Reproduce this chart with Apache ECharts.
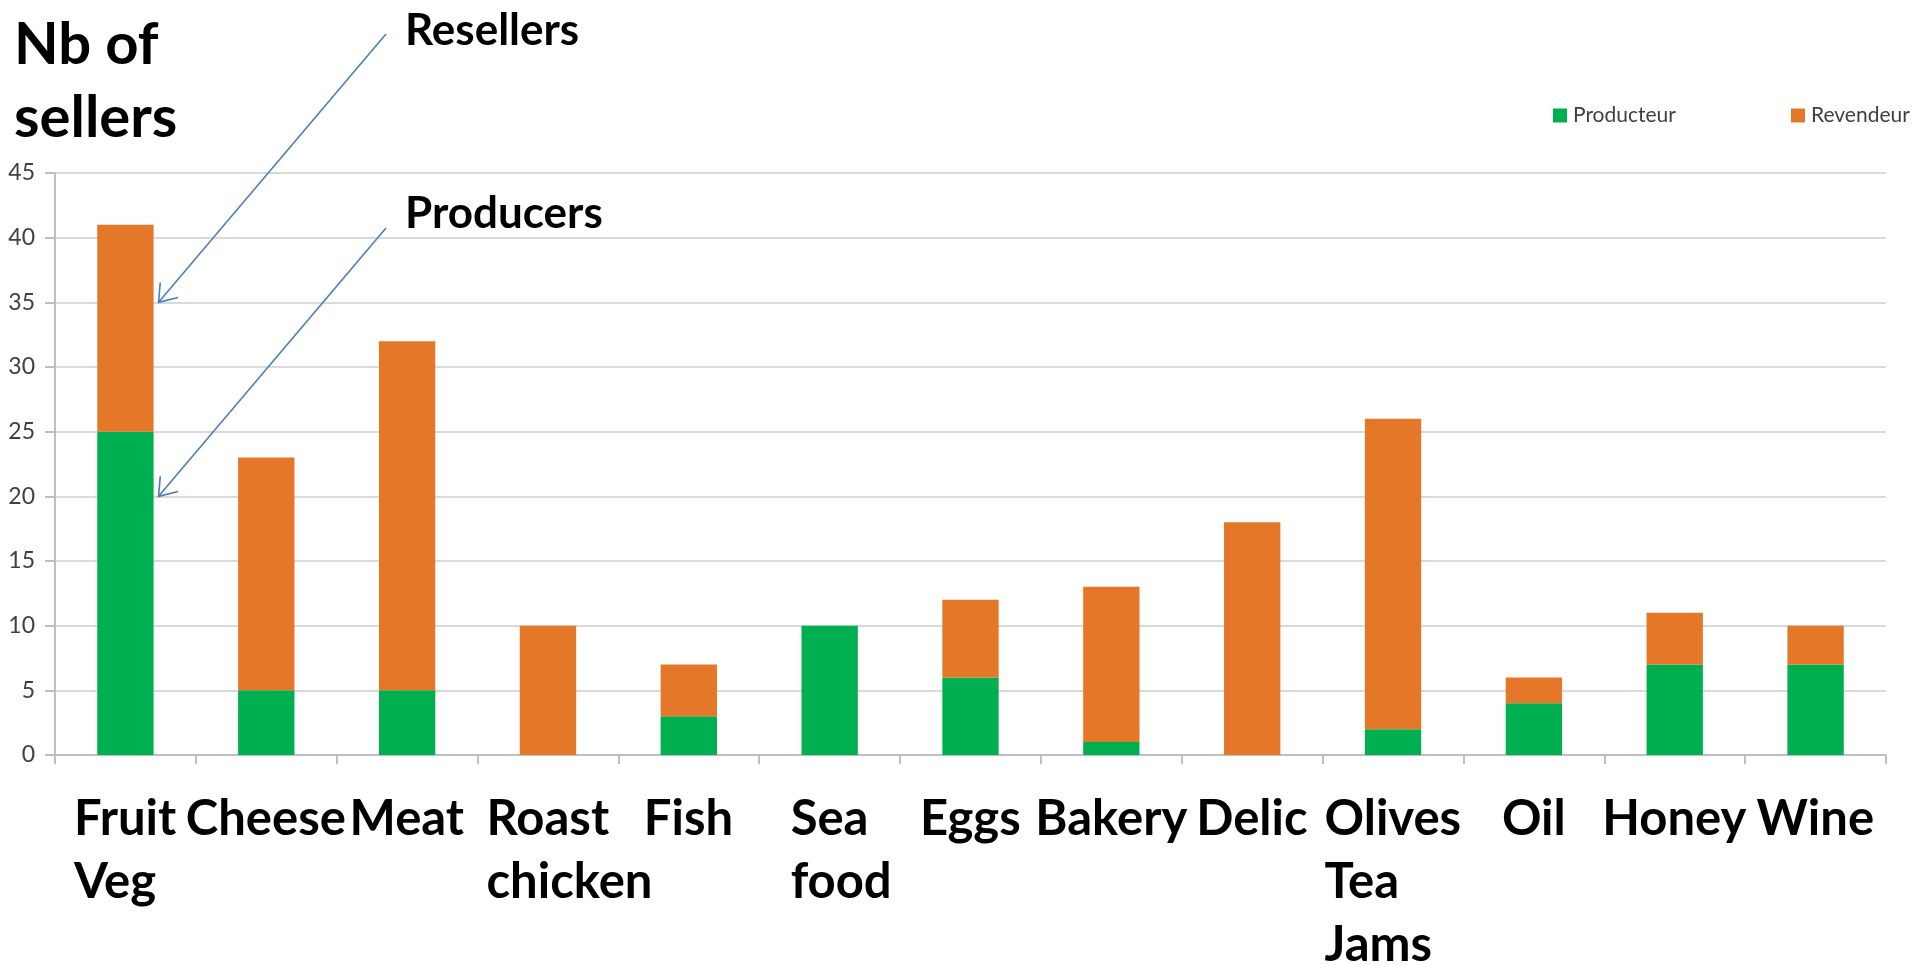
<!DOCTYPE html>
<html>
<head>
<meta charset="utf-8">
<title>Nb of sellers</title>
<script src="https://cdn.jsdelivr.net/npm/echarts@6/dist/echarts.min.js"></script>
<style>
  html, body { margin: 0; padding: 0; background: #fff; }
  #chart { width: 1915px; height: 965px; }
</style>
</head>
<body>
<div id="chart"></div>
<script>
// data
const categories = ['Fruit\nVeg', 'Cheese', 'Meat', 'Roast\nchicken', 'Fish', 'Sea\nfood', 'Eggs', 'Bakery', 'Delic', 'Olives\nTea\nJams', 'Oil', 'Honey', 'Wine']
const producteur = [25, 5, 5, 0, 3, 10, 6, 1, 0, 2, 4, 7, 7]
const revendeur = [16, 18, 27, 10, 4, 0, 6, 12, 18, 24, 2, 4, 3]
const seriesNames = ['Producteur', 'Revendeur']
const yMin = 0
const yMax = 45
const yStep = 5
// arrows point at the Fruit Veg bar: [label, value it points to]
const notes = [['Resellers', 35], ['Producers', 20]]

const font = 'Lato, "Open Sans", sans-serif'
const green = '#00b050'
const orange = '#e47828'
const blue = '#4a7ebb'
const labelSize = 49

// first line of a category label is centred under its slot, the next lines start where it starts
const measure = document.createElement('canvas').getContext('2d')
measure.font = 'bold ' + labelSize + 'px ' + font
const rich = {}
categories.forEach((c, i) => {
  const w = measure.measureText(c.split('\n')[0]).width
  rich['c' + i] = { width: Math.ceil(w), align: 'left', fontSize: labelSize, fontWeight: 'bold', fontFamily: font, color: '#000', lineHeight: 63 }
})

const chart = echarts.init(document.getElementById('chart'))

const legendText = { fontSize: 21, fontFamily: font, color: '#404040', padding: [0, 0, 0, 1] }

const option = {
  animation: false,
  title: {
    text: 'Nb of\nsellers',
    left: 9,
    top: 4,
    textStyle: { fontSize: 58, fontWeight: 'bold', fontFamily: font, color: '#000', lineHeight: 73 }
  },
  legend: [
    { data: [seriesNames[0]], left: 1548, top: 100, icon: 'rect', itemWidth: 14, itemHeight: 14, textStyle: legendText },
    { data: [seriesNames[1]], left: 1786, top: 100, icon: 'rect', itemWidth: 14, itemHeight: 14, textStyle: legendText }
  ],
  grid: {
    left: 55,
    right: 29,
    top: 173,
    bottom: 210,
    containLabel: false,
    outerBoundsMode: 'none'
  },
  xAxis: {
    type: 'category',
    data: categories,
    axisLine: { lineStyle: { color: '#bfbfbf', width: 2 } },
    axisTick: { show: true, length: 9, lineStyle: { color: '#bfbfbf', width: 2 } },
    axisLabel: {
      interval: 0,
      margin: 33,
      align: 'center',
      verticalAlign: 'top',
      rich: rich,
      formatter: function(value, index) {
        return value.split('\n').map(l => '{c' + index + '|' + l + '}').join('\n')
      }
    }
  },
  yAxis: {
    type: 'value',
    min: yMin,
    max: yMax,
    interval: yStep,
    axisLine: { show: true, lineStyle: { color: '#bfbfbf', width: 2 } },
    axisTick: { show: true, length: 10, lineStyle: { color: '#bfbfbf', width: 2 } },
    axisLabel: { fontSize: 23, fontFamily: font, color: '#404040', margin: 20 },
    splitLine: { lineStyle: { color: '#d9d9d9', width: 2 } }
  },
  series: [
    {
      name: seriesNames[0],
      type: 'bar',
      stack: 'sellers',
      barWidth: '40%',
      data: producteur,
      itemStyle: { color: green }
    },
    {
      name: seriesNames[1],
      type: 'bar',
      stack: 'sellers',
      barWidth: '40%',
      data: revendeur,
      itemStyle: { color: orange }
    }
  ]
}
chart.setOption(option)

// annotation arrows, anchored to the right edge of the first bar
const p0 = chart.convertToPixel({ gridIndex: 0 }, [0, 0])
const p1 = chart.convertToPixel({ gridIndex: 0 }, [1, 0])
const halfBar = (p1[0] - p0[0]) * 0.4 / 2
const textX = 405
const textTops = [9, 192]
const tails = [[386, 34], [386, 228]]
const graphics = []
notes.forEach((n, i) => {
  const tip = chart.convertToPixel({ gridIndex: 0 }, [0, n[1]])
  const ex = tip[0] + halfBar + 5
  const ey = tip[1]
  const sx = tails[i][0]
  const sy = tails[i][1]
  const len = Math.hypot(sx - ex, sy - ey)
  const ux = (sx - ex) / len
  const uy = (sy - ey) / len
  const a = 0.62
  const h = 20
  const w1 = [ex + h * (ux * Math.cos(a) - uy * Math.sin(a)), ey + h * (ux * Math.sin(a) + uy * Math.cos(a))]
  const w2 = [ex + h * (ux * Math.cos(-a) - uy * Math.sin(-a)), ey + h * (ux * Math.sin(-a) + uy * Math.cos(-a))]
  graphics.push({
    type: 'line',
    shape: { x1: sx, y1: sy, x2: ex, y2: ey },
    style: { stroke: blue, lineWidth: 1.6 }
  })
  graphics.push({
    type: 'polyline',
    shape: { points: [w1, [ex, ey], w2] },
    style: { stroke: blue, lineWidth: 1.6, fill: null }
  })
  graphics.push({
    type: 'text',
    x: textX,
    y: textTops[i],
    style: { text: n[0], fontSize: 44, fontWeight: 'bold', fontFamily: font, fill: '#000', verticalAlign: 'top' }
  })
})
chart.setOption({ graphic: graphics })
</script>
</body>
</html>
